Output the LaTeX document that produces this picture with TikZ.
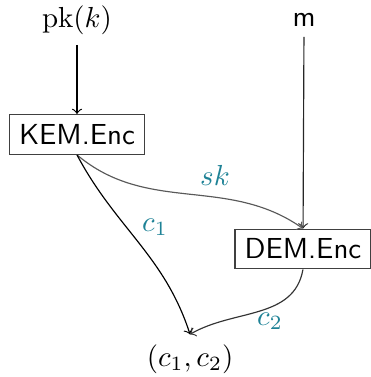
\documentclass[tikz,border=0pt]{standalone}
\usepackage{amsmath}
\definecolor{labelteal}{RGB}{30,130,150}

\begin{document}
\begin{tikzpicture}[box/.style={draw=black!75,rectangle,font=\sffamily},
  lbl/.style={labelteal}]
\useasboundingbox (0,0) rectangle (4.500,-4.573);
\node (pk) at (0.934,-0.243) {$\mathrm{pk}(k)$};
\node (m) at (3.688,-0.243) {\textsf{m}};
\node[box] (KEM) at (0.934,-1.631) {KEM.Enc};
\node[box] (DEM) at (3.675,-3.020) {DEM.Enc};
\node (out) at (2.305,-4.355) {$(c_1,c_2)$};
\draw[->] (pk) -- (KEM);
\draw[->,black!85] (m) -- (DEM);
\draw[->,black!65] (KEM.south) to[out=-40,in=145] (DEM.north);
\draw[->] (KEM.south) to[out=-62,in=108] (out.north);
\draw[->,black!80] (DEM.south) to[out=-100,in=30] (out.north);
\node[lbl] (sk) at (2.608,-2.123) {$sk$};
\node[lbl] (c1) at (1.880,-2.753) {$c_1$};
\node[lbl] (c2) at (3.275,-3.894) {$c_2$};
\end{tikzpicture}
\end{document}
